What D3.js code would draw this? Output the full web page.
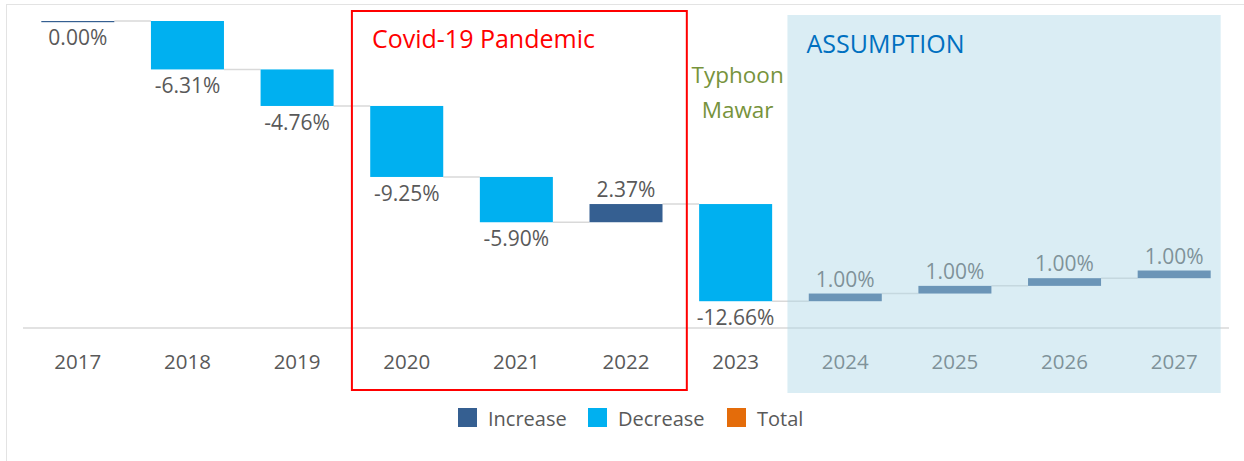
<!DOCTYPE html>
<html>
<head>
<meta charset="utf-8">
<script src="https://cdn.jsdelivr.net/npm/d3@7"></script>
<style>
  body { margin: 0; background: #fff; }
  svg { display: block; font-family: "Open Sans", sans-serif; }
  .lbl { fill: #595959; font-size: 21px; }
  .tick { fill: #595959; font-size: 20.5px; }
  .leg { fill: #595959; font-size: 20px; }
</style>
</head>
<body>
<svg id="chart" width="1244" height="461"></svg>
<script>
// waterfall data
var years = ["2017", "2018", "2019", "2020", "2021", "2022", "2023", "2024", "2025", "2026", "2027"];
var changes = [0.00, -6.31, -4.76, -9.25, -5.90, 2.37, -12.66, 1.00, 1.00, 1.00, 1.00];
var legendNames = ["Increase", "Decrease", "Total"];
var legendColors = ["#355f91", "#00b0f0", "#e46c0a"];

var colInc = "#355f91", colDec = "#00b0f0";

var svg = d3.select("#chart");

// outer frame (clipped on the right and bottom)
svg.append("rect")
  .attr("x", 6.5).attr("y", 4.5)
  .attr("width", 1300).attr("height", 500)
  .attr("fill", "none").attr("stroke", "#e3e3e3").attr("stroke-width", 1);

var x = d3.scaleBand().domain(years).range([23, 1229])
  .paddingInner(0.334).paddingOuter(0.167);
var y = d3.scaleLinear().domain([-40, 0]).range([328, 21]);
var bw = x.bandwidth();
var gap = x.step() - bw;

// running totals
var rows = [];
var run = 0;
years.forEach(function(yr, i) {
  var start = run;
  run = Math.round((run + changes[i]) * 100) / 100;
  rows.push({ year: yr, v: changes[i], start: start, end: run });
});

// axis line
svg.append("line")
  .attr("x1", 23).attr("x2", 1229)
  .attr("y1", y(-40)).attr("y2", y(-40))
  .attr("stroke", "#d9d9d9").attr("stroke-width", 1.5);

// connectors
svg.selectAll(".conn")
  .data(rows.slice(0, -1))
  .enter().append("line")
  .attr("class", "conn")
  .attr("x1", function(d) { return x(d.year) + bw; })
  .attr("x2", function(d, i) { return x(years[i + 1]); })
  .attr("y1", function(d) { return y(d.end); })
  .attr("y2", function(d) { return y(d.end); })
  .attr("stroke", "#d9d9d9").attr("stroke-width", 1.5);

// bars
svg.selectAll(".bar")
  .data(rows)
  .enter().append("rect")
  .attr("class", "bar")
  .attr("x", function(d) { return x(d.year); })
  .attr("width", bw)
  .attr("y", function(d) { return y(Math.max(d.start, d.end)); })
  .attr("height", function(d) { return Math.max(1.2, Math.abs(y(d.start) - y(d.end))); })
  .attr("fill", function(d) { return d.v > 0 || d.v == 0 ? colInc : colDec; });

// data labels
svg.selectAll(".lbl")
  .data(rows)
  .enter().append("text")
  .attr("class", "lbl")
  .attr("text-anchor", "middle")
  .attr("x", function(d) { return x(d.year) + bw / 2; })
  .attr("y", function(d) {
    if (d.v > 0) return y(d.end) - 7;
    return y(Math.min(d.start, d.end)) + 24;
  })
  .text(function(d) { return d.v.toFixed(2) + "%"; });

// category labels
svg.selectAll(".tick")
  .data(years)
  .enter().append("text")
  .attr("class", "tick")
  .attr("text-anchor", "middle")
  .attr("x", function(d) { return x(d) + bw / 2; })
  .attr("y", 369)
  .text(function(d) { return d; });

// legend
var leg = svg.append("g").attr("transform", "translate(458,408)");
var legX = [0, 130, 269];
legendNames.forEach(function(n, i) {
  leg.append("rect").attr("x", legX[i]).attr("y", 0)
    .attr("width", 19).attr("height", 19).attr("fill", legendColors[i]);
  leg.append("text").attr("class", "leg")
    .attr("x", legX[i] + 30).attr("y", 18).text(n);
});

// assumption overlay
var ax0 = x("2024") - gap / 2 - 3;
var ax1 = x("2027") + bw + 10;
svg.append("rect")
  .attr("x", ax0).attr("y", 15)
  .attr("width", ax1 - ax0).attr("height", 378)
  .attr("fill", "rgb(173,216,230)").attr("fill-opacity", 0.45);
svg.append("text")
  .attr("x", ax0 + 19).attr("y", 53)
  .attr("fill", "#0070c0").style("font-size", "25px")
  .text("ASSUMPTION");

// covid box
var cx0 = x("2020") - gap / 2;
var cx1 = x("2022") + bw + gap / 2 + 6;
svg.append("rect")
  .attr("x", cx0).attr("y", 11)
  .attr("width", cx1 - cx0).attr("height", 379)
  .attr("fill", "none").attr("stroke", "#ff0000").attr("stroke-width", 2);
svg.append("text")
  .attr("x", cx0 + 20).attr("y", 48)
  .attr("fill", "#ff0000").style("font-size", "25px")
  .text("Covid-19 Pandemic");

// typhoon note
var tx = x("2023") + bw / 2 + 2;
svg.append("text")
  .attr("text-anchor", "middle")
  .attr("x", tx).attr("y", 83)
  .attr("fill", "#77933c").style("font-size", "22.5px")
  .text("Typhoon");
svg.append("text")
  .attr("text-anchor", "middle")
  .attr("x", tx).attr("y", 118)
  .attr("fill", "#77933c").style("font-size", "22.5px")
  .text("Mawar");
</script>
</body>
</html>
